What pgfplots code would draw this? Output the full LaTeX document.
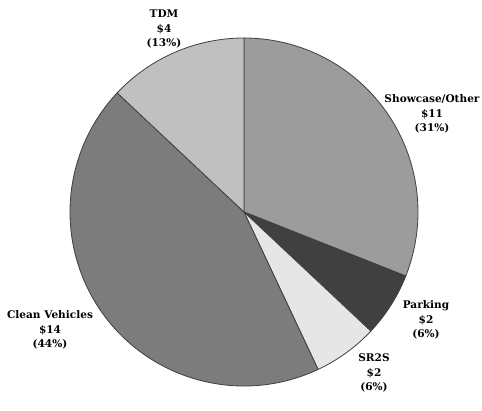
\documentclass[border=0pt]{standalone}
\usepackage{fontspec}
\setmainfont{DejaVu Serif}
\usepackage{pgfplots}
\pgfplotsset{compat=1.18}
\usepackage{pgfplotstable}

% Spending by program area: share (%) and rounded amount ($M)
\pgfplotstableread{
pct amount
31  11
6   2
6   2
44  14
13  4
}\shares

\definecolor{cShowcase}{HTML}{9C9C9C}
\definecolor{cParking}{HTML}{404040}
\definecolor{cSRtoS}{HTML}{E6E6E6}
\definecolor{cClean}{HTML}{7C7C7C}
\definecolor{cTDM}{HTML}{C0C0C0}

\tikzset{lbl/.style={font=\fontsize{7.9}{11}\selectfont\bfseries, align=center, inner sep=0pt}}

\newcommand\pieR{130.5pt}
% one wedge from angle #1 to angle #2 (clockwise), filled with #3
\newcommand\slice[3]{%
  \filldraw[fill=#3, draw=black!75, line width=0.6pt]
    (axis cs:244,182) -- ++(#1:\pieR) arc[start angle=#1, end angle=#2, radius=\pieR] -- cycle;}

\begin{document}
\begin{tikzpicture}
\begin{axis}[
  x=0.75pt, y=0.75pt,
  xmin=0, xmax=482, ymin=0, ymax=394,
  hide axis, clip=false,
]
\path (axis cs:0,0) (axis cs:482,394);
% cumulative angles, starting at 12 o'clock and running clockwise
\pgfplotstablegetelem{0}{pct}\of\shares\edef\pA{\pgfplotsretval}
\pgfplotstablegetelem{1}{pct}\of\shares\edef\pB{\pgfplotsretval}
\pgfplotstablegetelem{2}{pct}\of\shares\edef\pC{\pgfplotsretval}
\pgfplotstablegetelem{3}{pct}\of\shares\edef\pD{\pgfplotsretval}
\pgfplotstablegetelem{4}{pct}\of\shares\edef\pE{\pgfplotsretval}
\pgfmathsetmacro\aA{90-3.6*\pA}
\pgfmathsetmacro\aB{\aA-3.6*\pB}
\pgfmathsetmacro\aC{\aB-3.6*\pC}
\pgfmathsetmacro\aD{\aC-3.6*\pD}
\pgfmathsetmacro\aE{\aD-3.6*\pE}
\edef\doslices{%
  \noexpand\slice{90}{\aA}{cShowcase}%
  \noexpand\slice{\aA}{\aB}{cParking}%
  \noexpand\slice{\aB}{\aC}{cSRtoS}%
  \noexpand\slice{\aC}{\aD}{cClean}%
  \noexpand\slice{\aD}{\aE}{cTDM}}
\doslices

\node[lbl] at (axis cs:164,365) {TDM\\\$4\\(13\%)};
\node[lbl] at (axis cs:432,280) {Showcase/Other\\\$11\\(31\%)};
\node[lbl] at (axis cs:426,74) {Parking\\\$2\\(6\%)};
\node[lbl] at (axis cs:374,21) {SR2S\\\$2\\(6\%)};
\node[lbl] at (axis cs:50,64) {Clean Vehicles\\\$14\\(44\%)};
\end{axis}
\end{tikzpicture}
\end{document}
